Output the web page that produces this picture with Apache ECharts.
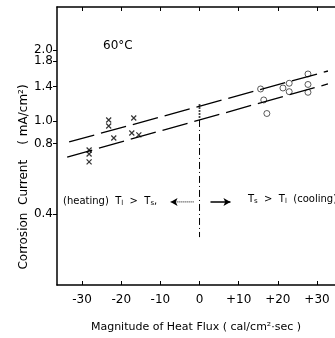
<!DOCTYPE html>
<html>
<head>
<meta charset="utf-8">
<script src="https://cdn.jsdelivr.net/npm/echarts@6/dist/echarts.min.js"></script>
<style>
  html, body { margin: 0; padding: 0; background: #fff; }
  #chart { width: 335px; height: 338px; }
</style>
</head>
<body>
<div id="chart"></div>
<script>
// 刻度
const xTicks = [-30, -20, -10, 0, 10, 20, 30];
const yTicks = [0.4, 0.8, 1.0, 1.4, 1.8, 2.0];

// heating side (x markers)
const heatFlux = [-28.2, -28.2, -28.2, -23.2, -23.2, -21.9, -17.3, -16.8, -15.5];
const heatCurrent = [0.752, 0.723, 0.669, 1.01, 0.952, 0.846, 0.889, 1.03, 0.872];

// zero flux points
const zeroFlux = [0, 0, 0, 0, 0];
const zeroCurrent = [1.17, 1.136, 1.103, 1.071, 1.04];

// cooling side (circles)
const coolFlux = [15.6, 16.4, 17.2, 21.3, 22.9, 22.9, 27.7, 27.7, 27.7];
const coolCurrent = [1.369, 1.229, 1.076, 1.382, 1.448, 1.333, 1.586, 1.431, 1.325];

// dashed band lines
const upperFlux = [-33.3, 32.8];
const upperCurrent = [0.814, 1.633];
const lowerFlux = [-33.8, 32.8];
const lowerCurrent = [0.702, 1.438];

// divider and arrows
const dividerFlux = [0, 0];
const dividerCurrent = [1.01, 0.32];
const leftArrowFlux = [-1.5, -7.4];
const rightArrowFlux = [2.8, 7.9];
const arrowCurrent = [0.452, 0.452];

const pairs = (xs, ys) => xs.map((x, i) => [x, ys[i]]);
const arrowData = (xs, ys, rot) => [
  { value: [xs[0], ys[0]], symbol: 'none' },
  { value: [xs[1], ys[1]], symbol: 'arrow', symbolSize: [6, 7], symbolRotate: rot }
];

const FONT = 'DejaVu Sans';
const xMark = 'path://M0,0L10,10M10,0L0,10';

// 1.8 and 2.0 sit too close for one axis (overlap hiding), so 1.8 goes on a second axis
const yTicksA = yTicks.filter(v => v !== 1.8);
const yTicksB = yTicks.filter(v => v === 1.8);

function logAxis(ticks, showLine) {
  return {
    type: 'log',
    logBase: 10,
    min: 0.2,
    max: 3.06,
    position: 'left',
    splitLine: { show: false },
    axisLine: { show: showLine, onZero: false, lineStyle: { color: '#000', width: 1.5 } },
    axisTick: { show: true, length: 4, customValues: ticks, lineStyle: { color: '#000' } },
    axisLabel: {
      customValues: ticks,
      margin: 4,
      fontSize: 12,
      hideOverlap: false,
      color: '#000',
      fontFamily: FONT,
      formatter: v => Number(v).toFixed(1)
    }
  };
}

let myChart = echarts.init(document.getElementById('chart'));

const option = {
  animation: false,
  textStyle: { fontFamily: FONT, color: '#000' },
  grid: { left: 57, top: 7, width: 279, height: 278 },
  xAxis: [
    {
      type: 'value',
      min: -36.4,
      max: 34.6,
      position: 'bottom',
      splitLine: { show: false },
      axisLine: { onZero: false, lineStyle: { color: '#000', width: 1.5 } },
      axisTick: { inside: true, length: 4, customValues: xTicks, lineStyle: { color: '#000' } },
      axisLabel: {
        customValues: xTicks,
        margin: 9,
        fontSize: 12,
        color: '#000',
        fontFamily: FONT,
        formatter: v => (v > 0 ? '+' + v : String(v))
      },
      name: 'Magnitude of Heat Flux ( cal/cm²·sec )',
      nameLocation: 'middle',
      nameGap: 37,
      nameTextStyle: { fontSize: 11, color: '#000', fontFamily: FONT }
    },
    {
      type: 'value',
      min: -36.4,
      max: 34.6,
      position: 'top',
      splitLine: { show: false },
      axisLine: { onZero: false, lineStyle: { color: '#000', width: 1.5 } },
      axisTick: { inside: true, length: 4, customValues: xTicks, lineStyle: { color: '#000' } },
      axisLabel: { show: false }
    }
  ],
  yAxis: [logAxis(yTicksA, true), logAxis(yTicksB, false)],
  graphic: [
    { type: 'text', left: 103, top: 40, style: { text: '60°C', font: '12px ' + FONT, fill: '#000' } },
    {
      type: 'text', left: 63, top: 196,
      style: {
        text: '(heating)  T{s|l}  >  T{s|s},',
        font: '10px ' + FONT, fill: '#000',
        rich: { s: { fontSize: 7, fontFamily: FONT, padding: [4, 0, 0, 0] } }
      }
    },
    {
      type: 'text', left: 248, top: 194,
      style: {
        text: 'T{s|s}  >  T{s|l}  (cooling)',
        font: '10px ' + FONT, fill: '#000',
        rich: { s: { fontSize: 7, fontFamily: FONT, padding: [4, 0, 0, 0] } }
      }
    },
    {
      type: 'text', x: 24, y: 177, rotation: Math.PI / 2,
      style: {
        text: 'Corrosion  Current    ( mA/cm²)',
        font: '12px ' + FONT, fill: '#000', align: 'center', verticalAlign: 'middle'
      }
    }
  ],
  series: [
    {
      type: 'line', data: pairs(upperFlux, upperCurrent), symbol: 'none',
      lineStyle: { color: '#000', width: 1.3, type: [26, 7] }
    },
    {
      type: 'line', data: pairs(lowerFlux, lowerCurrent), symbol: 'none',
      lineStyle: { color: '#000', width: 1.3, type: [26, 7] }
    },
    {
      type: 'line', data: pairs(dividerFlux, dividerCurrent), symbol: 'none',
      lineStyle: { color: '#000', width: 1, type: [7, 3, 1, 3] }
    },
    {
      type: 'line', data: arrowData(leftArrowFlux, arrowCurrent, 90),
      itemStyle: { color: '#000' },
      lineStyle: { color: '#000', width: 1, type: [1, 1] }
    },
    {
      type: 'line', data: arrowData(rightArrowFlux, arrowCurrent, -90),
      itemStyle: { color: '#000' },
      lineStyle: { color: '#000', width: 1.5 }
    },
    {
      type: 'scatter', data: pairs(heatFlux, heatCurrent), symbol: xMark, symbolSize: 5,
      itemStyle: { color: 'transparent', borderColor: '#000', borderWidth: 1.2 }
    },
    {
      type: 'scatter', data: pairs(coolFlux, coolCurrent), symbol: 'circle', symbolSize: 6,
      itemStyle: { color: '#fff', borderColor: '#000', borderWidth: 0.8 }
    },
    {
      type: 'scatter', data: pairs(zeroFlux, zeroCurrent), symbol: 'circle', symbolSize: 2.2,
      itemStyle: { color: '#000' }
    }
  ]
};

myChart.setOption(option, true);
</script>
</body>
</html>
